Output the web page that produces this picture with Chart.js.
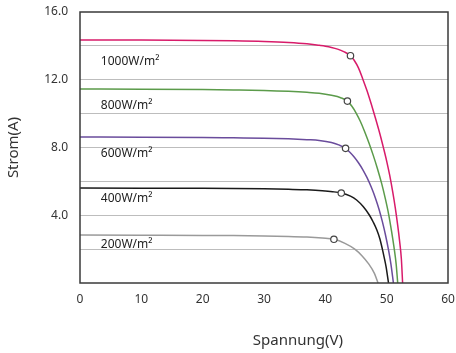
<!DOCTYPE html>
<html>
<head>
<meta charset="utf-8">
<script src="https://cdn.jsdelivr.net/npm/chart.js@4/dist/chart.umd.min.js"></script>
<style>
html,body{margin:0;padding:0;background:#fff;}
canvas{display:block;}
</style>
</head>
<body>
<canvas id="c" width="456" height="353"></canvas>
<script>
// ---- data ----
const irradianceLabels = ['1000W/m²','800W/m²','600W/m²','400W/m²','200W/m²'];
const curve1000 = [[0,14.35],[10,14.34],[20,14.32],[25,14.3],[30,14.26],[34,14.2],[37,14.12],[39,14.03],[40,13.98],[41,13.91],[42,13.81],[43,13.66],[44.1,13.42],[44.7,13.15],[45.4,12.7],[46.1,12.05],[46.8,11.35],[47.5,10.55],[48.2,9.7],[48.9,8.8],[49.5,7.95],[50.0,7.2],[50.5,6.35],[51.0,5.35],[51.4,4.45],[51.8,3.4],[52.1,2.5],[52.4,1.4],[52.6,0]];
const curve800 = [[0,11.45],[10,11.44],[20,11.42],[25,11.4],[30,11.37],[34,11.32],[37,11.26],[39,11.2],[41,11.08],[42.5,10.94],[43.6,10.74],[44.3,10.45],[45.0,10.05],[45.7,9.55],[46.4,8.95],[47.1,8.28],[47.8,7.55],[48.5,6.75],[49.2,5.85],[49.8,4.95],[50.3,4.1],[50.8,3.05],[51.2,2.1],[51.55,1.1],[51.8,0]];
const curve600 = [[0,8.62],[10,8.61],[20,8.59],[25,8.57],[30,8.55],[34,8.51],[37,8.46],[39,8.42],[41,8.3],[42.3,8.14],[43.3,7.95],[44.0,7.72],[44.7,7.44],[45.4,7.1],[46.1,6.7],[46.8,6.22],[47.5,5.65],[48.2,4.98],[48.8,4.3],[49.3,3.62],[49.8,2.85],[50.3,1.95],[50.7,1.1],[51.1,0]];
const curve400 = [[0,5.61],[10,5.6],[20,5.59],[25,5.58],[30,5.56],[34,5.53],[37,5.5],[39.5,5.45],[41.2,5.39],[42.6,5.31],[44.1,5.13],[45.1,4.9],[46.2,4.5],[47.2,4.0],[47.8,3.6],[48.4,3.13],[48.9,2.6],[49.3,2.0],[49.6,1.5],[49.9,0.96],[50.1,0.5],[50.3,0]];
const curve200 = [[0,2.83],[10,2.82],[20,2.81],[25,2.8],[30,2.78],[34,2.75],[37,2.71],[39.5,2.65],[41.4,2.58],[43.2,2.34],[44.8,2.0],[46.0,1.6],[47.0,1.16],[48.0,0.57],[48.6,0]];
const mppV = [44.1,43.6,43.3,42.6,41.4];
const mppI = [13.42,10.74,7.95,5.31,2.58];
const labelV = [3.4,3.4,3.4,3.4,3.4];
const labelI = [13.1,10.45,7.62,4.96,2.24];
const xTicks = [0,10,20,30,40,50,60];
const yTickLabels = [4,8,12,16];
const curveColors = ['#d81b6a','#5b9b4a','#6a4c9c','#1a1a1a','#9a9a9a'];

const curves = [curve1000, curve800, curve600, curve400, curve200];
const FONT = '"Noto Sans", "DejaVu Sans", sans-serif';

const datasets = curves.map((c, i) => ({
  label: irradianceLabels[i],
  data: c.map(p => ({x: p[0], y: p[1]})),
  borderColor: curveColors[i],
  borderWidth: 1.5,
  pointRadius: 0,
  fill: false,
  cubicInterpolationMode: 'monotone',
  order: 2
}));
datasets.push({
  label: 'MPP',
  type: 'scatter',
  data: mppV.map((v, i) => ({x: v, y: mppI[i]})),
  pointRadius: 3.2,
  pointBackgroundColor: '#ffffff',
  pointBorderColor: '#444444',
  pointBorderWidth: 1.2,
  order: 0
});

const decorPlugin = {
  id: 'decor',
  afterDatasetsDraw(chart) {
    const ctx = chart.ctx, a = chart.chartArea;
    const xs = chart.scales.x, ys = chart.scales.y;
    ctx.save();
    ctx.strokeStyle = '#3a3a3a';
    ctx.lineWidth = 1.5;
    ctx.strokeRect(a.left, a.top, a.right - a.left, a.bottom - a.top);
    ctx.fillStyle = '#222';
    ctx.font = '12px ' + FONT;
    ctx.textAlign = 'left';
    ctx.textBaseline = 'middle';
    irradianceLabels.forEach((t, i) => {
      ctx.fillText(t, xs.getPixelForValue(labelV[i]), ys.getPixelForValue(labelI[i]));
    });
    ctx.fillStyle = '#333';
    ctx.font = '15px ' + FONT;
    ctx.textAlign = 'center';
    ctx.fillText('Spannung(V)', a.left + (a.right - a.left) * 0.592, a.bottom + 58);
    ctx.translate(14, (a.top + a.bottom) / 2);
    ctx.rotate(-Math.PI / 2);
    ctx.fillText('Strom(A)', 0, 0);
    ctx.restore();
  }
};

new Chart(document.getElementById('c'), {
  type: 'line',
  data: { datasets },
  options: {
    responsive: false,
    animation: false,
    layout: { padding: { top: 12, right: 8, left: 0, bottom: 0 } },
    plugins: { legend: { display: false }, tooltip: { enabled: false } },
    scales: {
      x: {
        type: 'linear',
        min: 0, max: 60,
        afterBuildTicks: s => { s.ticks = xTicks.map(v => ({value: v})); },
        afterFit: s => { s.height = 70; s.paddingLeft = 0; s.paddingRight = 0; },
        grid: { display: false, drawTicks: false },
        border: { display: false },
        ticks: { color: '#333', font: { size: 12, family: FONT }, padding: 9, maxRotation: 0 }
      },
      y: {
        type: 'linear',
        min: 0, max: 16,
        ticks: {
          stepSize: 2,
          color: '#333',
          font: { size: 12, family: FONT },
          padding: 12,
          callback: v => yTickLabels.includes(v) ? v.toFixed(1) : ''
        },
        afterFit: s => { s.width = 80; s.paddingTop = 0; s.paddingBottom = 0; },
        grid: {
          drawTicks: false,
          color: c => (c.tick && (c.tick.value === 0 || c.tick.value === 16)) ? 'rgba(0,0,0,0)' : '#bdbdbd',
          lineWidth: 1
        },
        border: { display: false }
      }
    }
  },
  plugins: [decorPlugin]
});
</script>
</body>
</html>
